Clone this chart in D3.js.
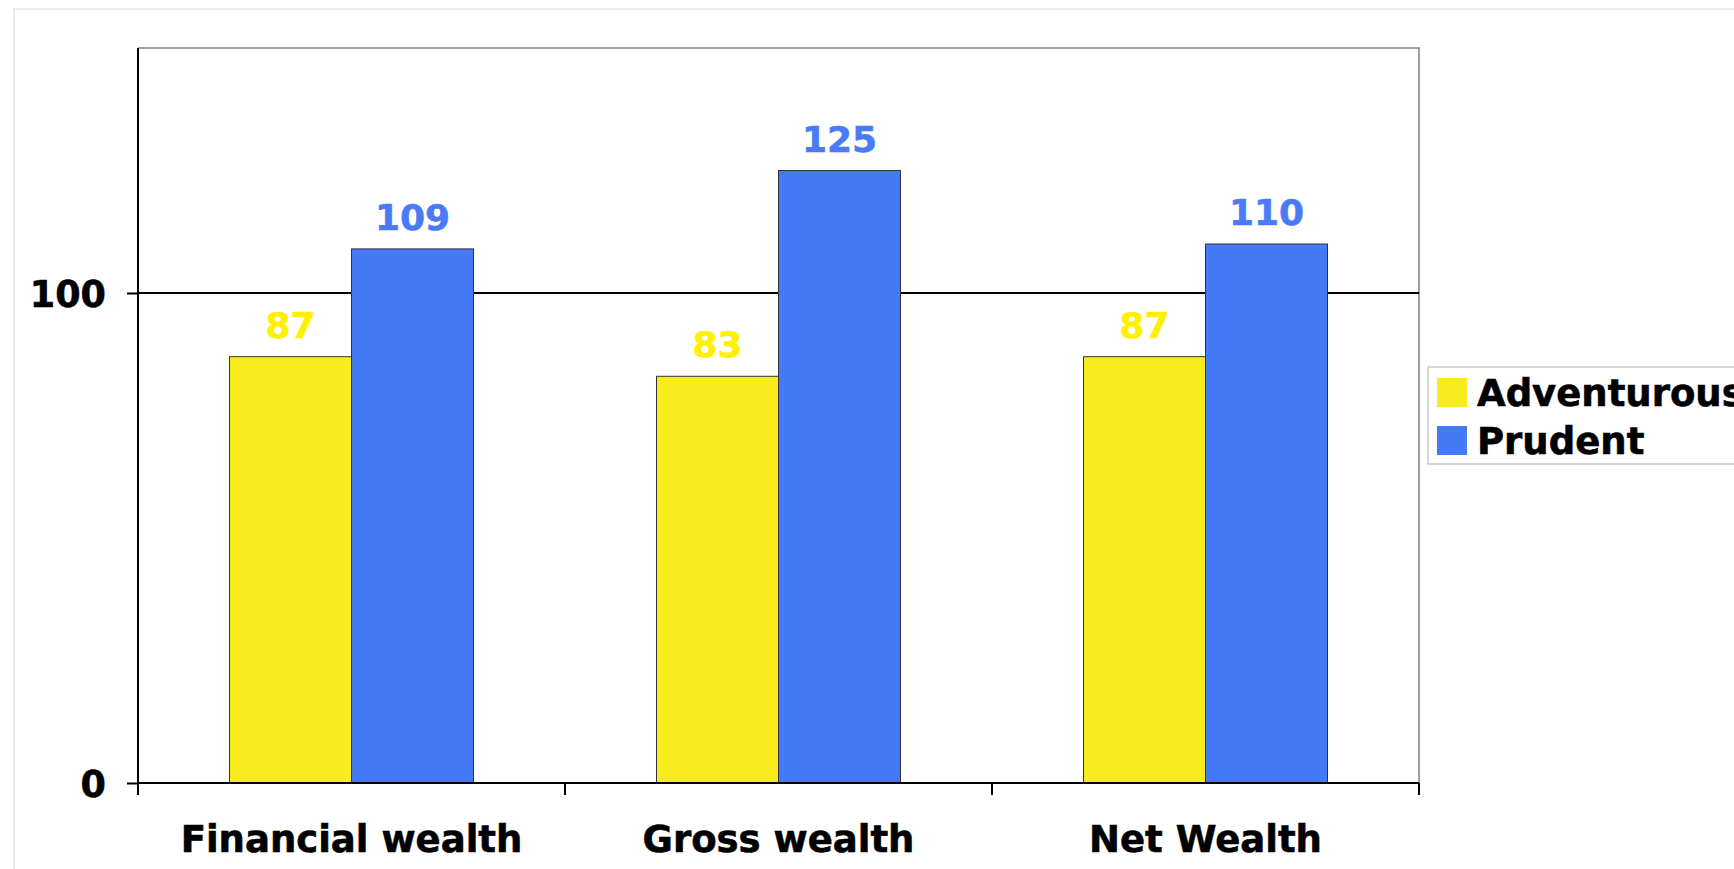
<!DOCTYPE html>
<html>
<head>
<meta charset="utf-8">
<script src="https://cdn.jsdelivr.net/npm/d3@7"></script>
<style>
  html, body { margin: 0; padding: 0; background: #ffffff; overflow: hidden; }
  svg { display: block; font-family: "DejaVu Sans", Verdana, sans-serif; font-weight: bold; }
</style>
</head>
<body>
<svg id="chart" width="1734" height="869"></svg>
<script>
const categories = ["Financial wealth", "Gross wealth", "Net Wealth"];
const seriesNames = ["Adventurous", "Prudent"];
const adventurous = [87, 83, 87];
const prudent = [109, 125, 110];
const yTicks = [0, 100];
const seriesColors = ["#F8EC1E", "#4479F8"];
const labelColors = ["#FFF000", "#4A7BF5"];

const svg = d3.select("#chart");
const margin = { left: 138, top: 48, right: 1419, bottom: 783 };

// faint outer frame
svg.append("rect").attr("x", 14).attr("y", 9).attr("width", 1760).attr("height", 900)
  .attr("fill", "none").attr("stroke", "#e6e6e6").attr("stroke-width", 1.5);

const x = d3.scaleBand().domain(categories).range([margin.left, margin.right]).padding(0);
const xInner = d3.scaleBand().domain(seriesNames).range([0, x.bandwidth()])
  .paddingInner(0).paddingOuter(0.75);
const y = d3.scaleLinear().domain([0, 150]).range([margin.bottom, margin.top]);

// plot area border (top & right)
svg.append("path")
  .attr("d", `M${margin.left},${y(150)}H${margin.right}V${y(0)}`)
  .attr("fill", "none").attr("stroke", "#808080").attr("stroke-width", 1.5);

// gridline at 100
svg.append("line")
  .attr("x1", margin.left).attr("x2", margin.right)
  .attr("y1", y(100)).attr("y2", y(100))
  .attr("stroke", "#000").attr("stroke-width", 2.2);

const data = categories.map((c, i) => ({ cat: c, values: [adventurous[i], prudent[i]] }));

const groups = svg.selectAll("g.cat").data(data).join("g")
  .attr("class", "cat")
  .attr("transform", d => `translate(${x(d.cat)},0)`);

groups.selectAll("rect").data(d => d.values.map((v, j) => ({ s: seriesNames[j], v, j })))
  .join("rect")
  .attr("x", d => xInner(d.s))
  .attr("width", xInner.bandwidth())
  .attr("y", d => y(d.v))
  .attr("height", d => y(0) - y(d.v))
  .attr("fill", d => seriesColors[d.j])
  .attr("stroke", "#333")
  .attr("stroke-width", 1);

groups.selectAll("text.val").data(d => d.values.map((v, j) => ({ s: seriesNames[j], v, j })))
  .join("text")
  .attr("class", "val")
  .attr("x", d => xInner(d.s) + xInner.bandwidth() / 2)
  .attr("y", d => y(d.v) - 19)
  .attr("text-anchor", "middle")
  .attr("font-size", 36)
  .attr("fill", d => labelColors[d.j])
  .attr("stroke", d => labelColors[d.j]).attr("stroke-width", 0.6)
  .text(d => d.v);

// y axis
const yAxis = svg.append("g").attr("transform", `translate(${margin.left},0)`)
  .call(d3.axisLeft(y).tickValues(yTicks).tickSize(11).tickPadding(21).tickFormat(d3.format("d")));
yAxis.select(".domain").attr("stroke", "#000").attr("stroke-width", 2)
  .attr("d", `M0,${y(0)}V${y(150)}`);
yAxis.selectAll(".tick line").attr("stroke", "#000").attr("stroke-width", 2);
yAxis.selectAll(".tick text").attr("font-size", 36.5).attr("font-weight", "bold")
  .attr("font-family", "DejaVu Sans, Verdana, sans-serif").attr("fill", "#000")
  .attr("stroke", "#000").attr("stroke-width", 0.6).attr("dy", "0.36em");

// x axis
const xAxis = svg.append("g").attr("transform", `translate(0,${y(0)})`)
  .call(d3.axisBottom(x).tickSize(0).tickPadding(0));
xAxis.select(".domain").attr("stroke", "#000").attr("stroke-width", 2)
  .attr("d", `M${margin.left},0H${margin.right}`);
xAxis.selectAll(".tick text").attr("font-size", 37).attr("font-weight", "bold")
  .attr("font-family", "DejaVu Sans, Verdana, sans-serif").attr("fill", "#000")
  .attr("stroke", "#000").attr("stroke-width", 0.6)
  .attr("y", 69).attr("dy", 0);
const boundaries = categories.map(c => x(c)).concat([x(categories[categories.length - 1]) + x.bandwidth()]);
xAxis.selectAll("line.bound").data(boundaries).join("line")
  .attr("class", "bound")
  .attr("x1", d => d).attr("x2", d => d)
  .attr("y1", 0).attr("y2", 12)
  .attr("stroke", "#000").attr("stroke-width", 2);

// legend
const legend = svg.append("g").attr("transform", "translate(1428,367)");
legend.append("rect").attr("width", 400).attr("height", 97)
  .attr("fill", "#fff").attr("stroke", "#c8c8c8").attr("stroke-width", 1.5);
const items = legend.selectAll("g.item").data(seriesNames).join("g")
  .attr("class", "item")
  .attr("transform", (d, i) => `translate(9,${11 + i * 48})`);
items.append("rect").attr("width", 30).attr("height", 29)
  .attr("fill", (d, i) => seriesColors[i]);
items.append("text").attr("x", 40).attr("y", 28)
  .attr("font-size", 37).attr("fill", "#000")
  .attr("stroke", "#000").attr("stroke-width", 0.6).text(d => d);
</script>
</body>
</html>
